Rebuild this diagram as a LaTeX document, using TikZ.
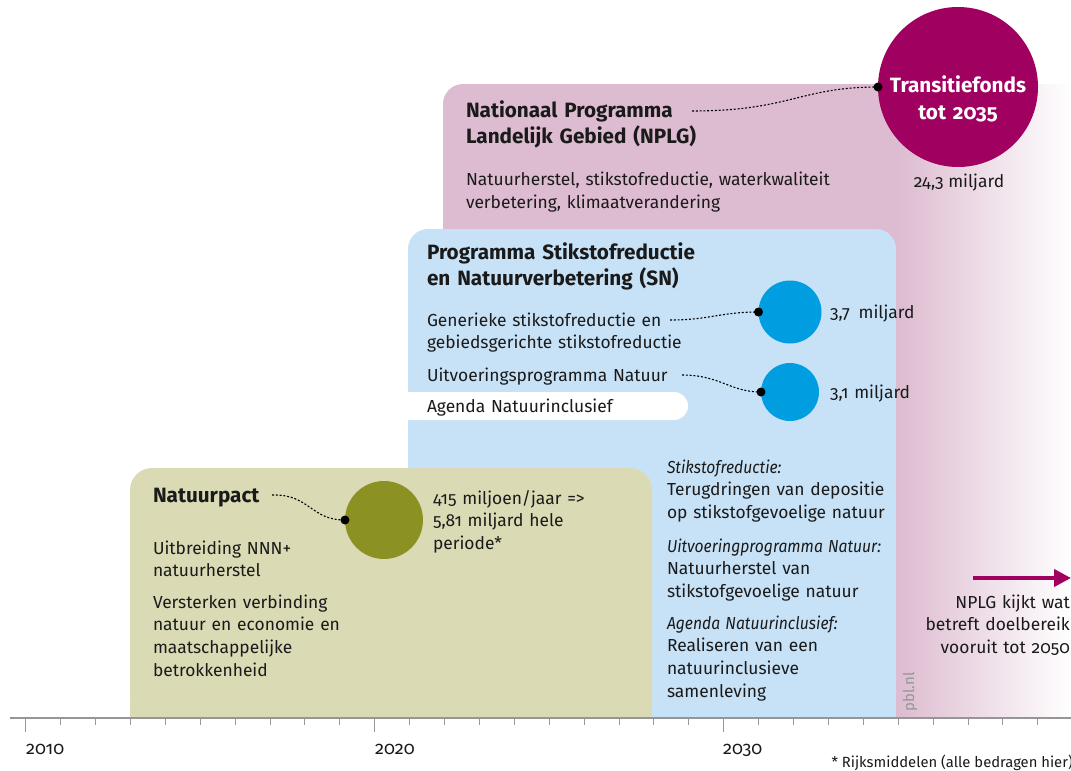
\documentclass[tikz,border=0pt]{standalone}
\usepackage{fontspec}
\setmainfont{Fira Sans}[Numbers=OldStyle]
\usetikzlibrary{arrows.meta}
\definecolor{pinkc}{RGB}{221,187,208}
\definecolor{bluec}{RGB}{199,226,247}
\definecolor{greenc}{RGB}{218,218,181}
\definecolor{olivec}{RGB}{139,146,35}
\definecolor{cyanc}{RGB}{0,158,224}
\definecolor{magc}{RGB}{160,0,96}
\definecolor{axisc}{RGB}{150,150,150}
\definecolor{txtc}{RGB}{26,26,26}
\newcommand{\bodyf}{\fontsize{17.4}{22.8}\selectfont}
\newcommand{\headf}{\fontsize{20.7}{26.8}\selectfont\bfseries}
\newcommand{\itlab}[1]{\scalebox{0.9}[1]{\itshape #1}}
\begin{document}
\begin{tikzpicture}[x=1pt,y=-1pt,
  txt/.style={anchor=base west,inner sep=0pt,outer sep=0pt,text width=400pt,align=left,font=\bodyf,text=txtc},
  head/.style={anchor=base west,inner sep=0pt,outer sep=0pt,text width=400pt,align=left,font=\headf,text=txtc},
  yearlab/.style={anchor=base west,inner sep=0pt,font=\fontsize{18}{20}\selectfont,text=txtc},
  fund/.style={circle,inner sep=0pt,outer sep=0pt,minimum size=#1},
  conn/.style={black,line width=1.1pt,dash pattern=on 2pt off 1.8pt},
  dotmark/.style={fill=black}]
\useasboundingbox (0,0) rectangle (1071,771);

% NPLG background (solid + fade)
\fill[pinkc,rounded corners=20pt] (443,718) -- (443,84) -- (897,84) -- (897,718) -- cycle;
\shade[left color=pinkc,right color=white] (896,84) rectangle (1071,718);
% SN box
\fill[bluec,rounded corners=20pt] (408,718) -- (408,229) -- (896,229) -- (896,718) -- cycle;
\fill[bluec] (408,700) rectangle (896,718);
% Natuurpact box
\fill[greenc,rounded corners=22pt] (130,718) -- (130,468) -- (652,468) -- (652,718) -- cycle;
\fill[greenc] (130,700) rectangle (652,718);
% Agenda bar
\fill[white,rounded corners=14pt] (408,420) -- (408,392) -- (688,392) -- (688,420) -- cycle;
\fill[white] (408,392) rectangle (430,420);

% axis
\draw[axisc,line width=1.2pt] (10,718) -- (1071,718);
\foreach \k in {0,...,30}{
  \pgfmathsetmacro{\xx}{25.7+34.9*\k}
  \pgfmathtruncatemacro{\md}{mod(\k,10)}
  \ifnum\md=0
    \draw[axisc,line width=0.9pt] (\xx,718) -- (\xx,732);
  \else
    \draw[axisc,line width=0.9pt] (\xx,718) -- (\xx,725);
  \fi
}
\node[yearlab] (y2010) at (26,754) {2010};
\node[yearlab] (y2020) at (375,754) {2020};
\node[yearlab] (y2030) at (723,754) {2030};
\node[anchor=base east,inner sep=0pt,font=\fontsize{14.8}{17}\selectfont,text=txtc] (foot) at (1073,767) {* Rijksmiddelen (alle bedragen hier)};

% circles
\node[fund=160pt,fill=magc] (tf) at (958,87) {};
\node[anchor=base,inner sep=0pt,text width=160pt,align=center,font=\headf,text=white] (tftxt) at (958,92) {Transitiefonds\\[1pt]tot 2035};
\node[fund=63pt,fill=cyanc] (sn1) at (790,312) {};
\node[fund=58pt,fill=cyanc] (sn2) at (790,392) {};
\node[fund=78pt,fill=olivec] (np) at (384,520) {};

% NPLG texts
\node[head] (nplgtitle) at (466,117) {Nationaal Programma\\Landelijk Gebied (NPLG)};
\node[txt] (nplgbody) at (466,185.5) {Natuurherstel, stikstofreductie, waterkwaliteit\\verbetering, klimaatverandering};
\node[anchor=base,inner sep=0pt,font=\bodyf,text=txtc] (tfamt) at (959,187) {24,3 miljard};

% SN texts
\node[head] (sntitle) at (427,259) {Programma Stikstofreductie\\en Natuurverbetering (SN)};
\node[txt] (gen) at (427,326) {Generieke stikstofreductie en\\gebiedsgerichte stikstofreductie};
\node[txt] (uitv) at (427,381) {Uitvoeringsprogramma Natuur};
\node[txt] (agenda) at (427,412) {Agenda Natuurinclusief};
\node[txt] (amt1) at (830,318) {3,7\enspace miljard};
\node[txt] (amt2) at (830,398) {3,1 miljard};

\node[txt] (d1) at (667,473) {\itlab{Stikstofreductie:}\\Terugdringen van depositie\\op stikstofgevoelige natuur};
\node[txt] (d2) at (667,552) {\itlab{Uitvoeringprogramma Natuur:}\\Natuurherstel van\\stikstofgevoelige natuur};
\node[txt] (d3) at (667,629) {\itlab{Agenda Natuurinclusief:}\\Realiseren van een\\natuurinclusieve\\samenleving};

% Natuurpact texts
\node[head] (nptitle) at (153,502) {Natuurpact};
\node[txt] (npamt) at (433,504) {415 miljoen/jaar =>\\5,81 miljard hele\\periode*};
\node[txt] (np1) at (153,554) {Uitbreiding NNN+\\natuurherstel};
\node[txt] (np2) at (153,608) {Versterken verbinding\\natuur en economie en\\maatschappelijke\\betrokkenheid};

% right side
\coordinate (arrS) at (973,578);
\coordinate (arrE) at (1071,578);
\draw[magc,line width=4pt,-{Triangle[length=17pt,width=17pt]}] (arrS) -- (arrE);
\node[anchor=base east,inner sep=0pt,text width=200pt,align=right,font=\bodyf,text=txtc] (fut) at (1070,608) {NPLG kijkt wat\\betreft doelbereik\\vooruit tot 2050};
\node[rotate=90,inner sep=0pt,font=\fontsize{15}{17}\selectfont,text=axisc] (pbl) at (910,692) {pbl.nl};

% connectors
\coordinate (c1) at (692,111);
\coordinate (c2) at (670,320);
\coordinate (c3) at (682,375);
\coordinate (c4) at (272,495);
\draw[conn] (c1) .. controls (790,111) and (800,87) .. (tf.west);
\draw[conn] (c2) .. controls (710,320) and (720,312) .. (sn1.west);
\draw[conn] (c3) .. controls (720,375) and (730,392) .. (sn2.west);
\draw[conn] (c4) .. controls (310,494) and (310,520) .. (np.west);
\fill[dotmark] (tf.west) circle (4.5);
\fill[dotmark] (sn1.west) circle (4.5);
\fill[dotmark] (sn2.west) circle (4.5);
\fill[dotmark] (np.west) circle (4.5);
\end{tikzpicture}
\end{document}
